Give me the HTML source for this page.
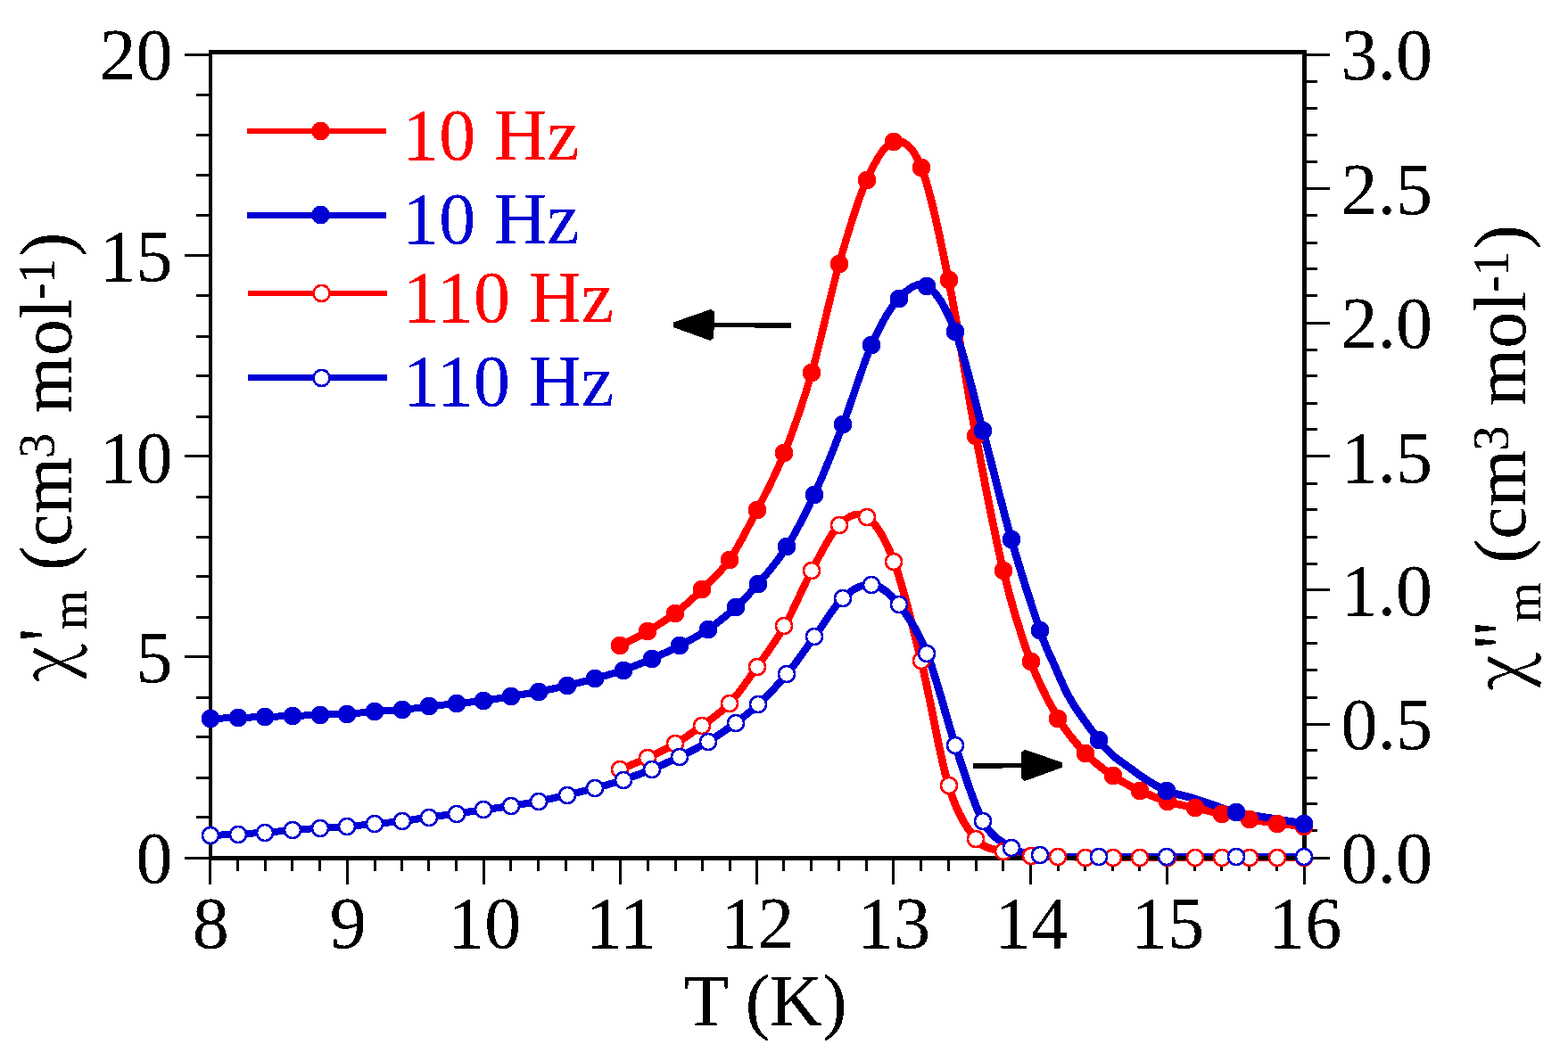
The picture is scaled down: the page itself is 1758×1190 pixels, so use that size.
<!DOCTYPE html>
<html lang="en"><head><meta charset="utf-8"><title>AC susceptibility vs temperature</title>
<style>
html,body{margin:0;padding:0;background:#fff;}
body{width:1758px;height:1190px;overflow:hidden;}
svg{display:block;}
text{font-family:"Liberation Serif","Times New Roman",Times,serif;white-space:pre;}
.t{font-size:82px;fill:#000;}
.ln{fill:none;stroke-linejoin:round;stroke-linecap:round;}
</style></head><body>
<svg width="1758" height="1190" viewBox="0 0 1758 1190" role="img" aria-label="AC susceptibility versus temperature">
<defs><filter id="crisp" x="0" y="0" width="1758" height="1190" filterUnits="userSpaceOnUse" color-interpolation-filters="sRGB"><feComponentTransfer><feFuncA type="discrete" tableValues="0 0 1 1 1"/></feComponentTransfer></filter></defs>
<rect width="1758" height="1190" fill="#fff"/>
<g class="ln" shape-rendering="crispEdges">
<path stroke="#ff0000" stroke-width="8.4" d="M695.4 724.4C700.5 721.7 715.9 714.1 726.1 708C736.3 701.9 746.5 695.8 756.8 688C767 680.2 777.2 671.1 787.4 661C797.7 650.9 807.9 642.4 818.1 627.6C828.4 612.8 838.6 591.9 848.8 572C859 552.1 869.2 533.7 879.5 508C889.7 482.3 899.9 453.3 910.1 418C920.4 382.7 930.6 331.9 940.8 296C951 260.1 961.3 225.2 971.5 202.4C981.7 179.6 992 161.5 1002.2 159"/>
<path stroke="#ff0000" stroke-width="8.8" d="M1002.2 159C1012.4 156.5 1022.6 161.8 1032.8 187.6C1043.1 213.4 1053.3 263.6 1063.5 313.8C1073.8 364 1084 434.6 1094.2 489C1104.4 543.4 1114.7 597.9 1124.9 640C1135.1 682.1 1145.3 714.2 1155.5 741.8C1165.8 769.4 1176 788.3 1186.2 805.5C1196.4 822.7 1206.7 834.2 1216.9 845C1227.1 855.8 1237.3 863 1247.6 870C1257.8 877 1268 882.2 1278.2 887C1288.5 891.8 1298.7 895.8 1308.9 899"/>
<path stroke="#ff0000" stroke-width="8.6" d="M1308.9 899C1319.1 902.2 1329.4 903.7 1339.6 906C1349.8 908.3 1360 910.8 1370.3 913"/>
<path stroke="#ff0000" stroke-width="8.4" d="M1370.3 913C1380.5 915.2 1390.7 917.2 1401 919C1411.2 920.8 1421.4 922.3 1431.6 923.6"/>
<path stroke="#ff0000" stroke-width="8.2" d="M1431.6 923.6C1441.8 924.9 1457.2 926.4 1462.3 927"/>
<path stroke="#ff0000" stroke-width="8.4" d="M695.4 863C700.5 860.8 715.9 854.8 726.1 850C736.3 845.2 746.5 840.5 756.8 834.4C767 828.3 777.2 821.2 787.4 813.6C797.7 806 807.9 799.9 818.1 789C828.4 778.1 838.6 762.4 848.8 748C859 733.6 869.2 720.5 879.5 702.5C889.7 684.5 899.9 659 910.1 640C920.4 621 930.6 598.7 940.8 588.6"/>
<path stroke="#ff0000" stroke-width="8.2" d="M940.8 588.6C951 578.5 961.3 572.8 971.5 579.6"/>
<path stroke="#ff0000" stroke-width="8.8" d="M971.5 579.6C981.7 586.4 992 602.7 1002.2 629.6C1012.4 656.5 1022.6 699.1 1032.8 741C1043.1 782.9 1053.3 847.9 1063.5 881.2C1073.8 914.5 1084 928.7 1094.2 941C1104.4 953.3 1114.7 951.9 1124.9 955"/>
<path stroke="#ff0000" stroke-width="8.4" d="M1124.9 955C1135.1 958.1 1145.3 958.6 1155.5 959.5"/>
<path stroke="#ff0000" stroke-width="8" d="M1155.5 959.5C1165.8 960.4 1176 960.2 1186.2 960.6"/>
<path stroke="#ff0000" stroke-width="8.2" d="M1186.2 960.6C1196.4 961 1206.7 961.6 1216.9 961.8"/>
<path stroke="#ff0000" stroke-width="8" d="M1216.9 961.8C1227.1 962 1237.3 962 1247.6 962C1257.8 962 1268 962 1278.2 962C1288.5 962 1298.7 962 1308.9 962C1319.1 962 1329.4 962 1339.6 962C1349.8 962 1360 962 1370.3 962C1380.5 962 1390.7 962 1401 962C1411.2 962 1421.4 962 1431.6 962C1441.8 962 1457.2 962 1462.3 962"/>
<path stroke="#0000d2" stroke-width="8" d="M235.5 806C240.7 805.8 256.3 805.3 266.6 805C276.9 804.7 287 804.3 297.2 804C307.4 803.7 317.6 803.4 327.9 803C338.1 802.6 348.4 802.2 358.7 801.8C368.9 801.4 379.2 801.4 389.4 800.8C399.6 800.2 409.8 798.8 420 798C430.2 797.2 440.4 796.9 450.6 796C460.8 795.1 471.2 793.6 481.4 792.4C491.6 791.2 501.9 790.1 512 789C522.1 787.9 531.8 787.3 542 786"/>
<path stroke="#0000d2" stroke-width="8.2" d="M542 786C552.2 784.7 562.6 782.7 573 781C583.4 779.3 593.9 777.6 604.4 775.6C614.9 773.6 625.6 771.4 636 769C646.4 766.6 656.5 763.9 667 761C677.5 758.1 688.4 755.3 699 751.6"/>
<path stroke="#0000d2" stroke-width="8.4" d="M699 751.6C709.6 747.9 720.2 743.5 730.6 739C741 734.5 751.1 729.9 761.6 724.4C772.1 718.9 783.2 713.2 793.8 706C804.4 698.8 815.6 689.6 825 681C834.4 672.4 840.8 665.9 850.4 654.6C860 643.3 872 629.7 882.4 613C892.8 596.3 902.5 577.4 913 554.6C923.5 531.8 934.5 503.9 945.2 476C955.9 448.1 966.6 410.9 977 387.4C987.4 363.9 997.1 346.1 1007.5 335C1017.9 323.9 1028.8 314.8 1039.4 321"/>
<path stroke="#0000d2" stroke-width="8.8" d="M1039.4 321C1050 327.2 1060.8 345 1071.2 372C1081.6 399 1091.5 444.1 1102 483C1112.5 521.9 1123.3 568 1134 605.3C1144.7 642.6 1158.2 684 1166 707C1173.8 730 1175 730 1180.8 743C1186.6 756 1192.1 770.8 1200.6 785.3C1209.1 799.8 1224.2 819.7 1232 830C1239.8 840.3 1242.4 842.4 1247.7 847.2C1253 852.1 1257.4 854.6 1263.6 859.1C1269.8 863.6 1277.2 869.6 1284.7 874.2C1292.2 878.9 1299.7 883.5 1308.5 887C1317.3 890.5 1329.3 892.9 1337.7 895.4C1346.1 897.9 1350.9 899.7 1358.9 902.3C1367 904.9 1368.8 907.5 1386 911"/>
<path stroke="#0000d2" stroke-width="8.4" d="M1386 911C1403.2 914.5 1449.7 921.5 1462.4 923.6"/>
<path stroke="#0000d2" stroke-width="8" d="M235.5 937C240.7 936.8 256.3 936.2 266.6 935.6C276.9 935 287 934.3 297.2 933.6C307.4 932.9 317.6 932.2 327.9 931.4C338.1 930.6 348.4 929.3 358.7 928.6C368.9 927.9 379.2 927.8 389.4 927C399.6 926.2 409.8 925 420 924C430.2 923 440.4 922.2 450.6 921"/>
<path stroke="#0000d2" stroke-width="8.2" d="M450.6 921C460.8 919.8 471.2 918 481.4 916.6C491.6 915.2 501.9 914 512 912.6C522.1 911.2 531.8 909.6 542 908.2C552.2 906.8 562.6 905.6 573 904C583.4 902.4 593.9 900.7 604.4 898.6C614.9 896.5 625.6 894 636 891.6C646.4 889.2 656.5 886.8 667 884C677.5 881.2 688.4 878.1 699 874.6"/>
<path stroke="#0000d2" stroke-width="8.4" d="M699 874.6C709.6 871.1 720.2 867.3 730.6 863C741 858.7 751.1 854.2 761.6 849C772.1 843.8 783.2 838.4 793.8 832C804.4 825.6 815.6 817.6 825 810.6C834.4 803.6 840.8 798.9 850.4 789.8C860 780.7 872 768.5 882.4 756C892.8 743.5 902.5 728.7 913 714.5C923.5 700.3 934.5 680.4 945.2 670.6C955.9 660.8 966.6 654.6 977 655.8"/>
<path stroke="#0000d2" stroke-width="8.8" d="M977 655.8C987.4 657 997.1 664.7 1007.5 677.6C1017.9 690.5 1028.8 706.5 1039.4 733C1050 759.5 1060.8 805.1 1071.2 836.4C1081.6 867.7 1091.5 902 1102 921C1112.5 940 1123.3 944.2 1134 950.6"/>
<path stroke="#0000d2" stroke-width="8.6" d="M1134 950.6C1144.7 957 1149.7 957.7 1166 959.4"/>
<path stroke="#0000d2" stroke-width="8" d="M1166 959.4C1182.3 961.1 1208.2 960.5 1232 960.7C1255.8 961 1282.8 960.9 1308.5 960.9C1334.2 960.9 1360.3 960.7 1386 960.7C1411.7 960.7 1449.7 961 1462.4 961"/>
</g>
<g fill="#000" shape-rendering="crispEdges">
<rect x="234" y="56" width="1231" height="5"/>
<rect x="234" y="960" width="1231" height="5"/>
<rect x="234" y="56" width="4" height="909"/>
<rect x="1460" y="56" width="5" height="909"/>
<rect x="207" y="961" width="28" height="3"/>
<rect x="220" y="915" width="15" height="3"/>
<rect x="220" y="871" width="15" height="3"/>
<rect x="220" y="825" width="15" height="3"/>
<rect x="220" y="781" width="15" height="3"/>
<rect x="207" y="735" width="28" height="3"/>
<rect x="220" y="691" width="15" height="3"/>
<rect x="220" y="645" width="15" height="3"/>
<rect x="220" y="601" width="15" height="3"/>
<rect x="220" y="556" width="15" height="3"/>
<rect x="207" y="510" width="28" height="3"/>
<rect x="220" y="466" width="15" height="3"/>
<rect x="220" y="420" width="15" height="3"/>
<rect x="220" y="376" width="15" height="3"/>
<rect x="220" y="330" width="15" height="3"/>
<rect x="207" y="285" width="28" height="3"/>
<rect x="220" y="240" width="15" height="3"/>
<rect x="220" y="195" width="15" height="3"/>
<rect x="220" y="150" width="15" height="3"/>
<rect x="220" y="105" width="15" height="3"/>
<rect x="207" y="60" width="28" height="3"/>
<rect x="1464" y="961" width="27" height="3"/>
<rect x="1464" y="930" width="13" height="3"/>
<rect x="1464" y="900" width="13" height="3"/>
<rect x="1464" y="871" width="13" height="3"/>
<rect x="1464" y="840" width="13" height="3"/>
<rect x="1464" y="811" width="27" height="3"/>
<rect x="1464" y="781" width="13" height="3"/>
<rect x="1464" y="750" width="13" height="3"/>
<rect x="1464" y="720" width="13" height="3"/>
<rect x="1464" y="691" width="13" height="3"/>
<rect x="1464" y="660" width="27" height="3"/>
<rect x="1464" y="631" width="13" height="3"/>
<rect x="1464" y="601" width="13" height="3"/>
<rect x="1464" y="570" width="13" height="3"/>
<rect x="1464" y="541" width="13" height="3"/>
<rect x="1464" y="510" width="27" height="3"/>
<rect x="1464" y="480" width="13" height="3"/>
<rect x="1464" y="451" width="13" height="3"/>
<rect x="1464" y="420" width="13" height="3"/>
<rect x="1464" y="391" width="13" height="3"/>
<rect x="1464" y="361" width="27" height="3"/>
<rect x="1464" y="330" width="13" height="3"/>
<rect x="1464" y="300" width="13" height="3"/>
<rect x="1464" y="271" width="13" height="3"/>
<rect x="1464" y="240" width="13" height="3"/>
<rect x="1464" y="210" width="27" height="3"/>
<rect x="1464" y="180" width="13" height="3"/>
<rect x="1464" y="150" width="13" height="3"/>
<rect x="1464" y="120" width="13" height="3"/>
<rect x="1464" y="90" width="13" height="3"/>
<rect x="1464" y="60" width="27" height="3"/>
<rect x="234" y="964" width="3" height="28"/>
<rect x="265" y="964" width="3" height="13"/>
<rect x="296" y="964" width="3" height="13"/>
<rect x="326" y="964" width="3" height="13"/>
<rect x="357" y="964" width="3" height="13"/>
<rect x="388" y="964" width="3" height="28"/>
<rect x="419" y="964" width="3" height="13"/>
<rect x="449" y="964" width="3" height="13"/>
<rect x="479" y="964" width="3" height="13"/>
<rect x="510" y="964" width="3" height="13"/>
<rect x="541" y="964" width="3" height="28"/>
<rect x="571" y="964" width="3" height="13"/>
<rect x="602" y="964" width="3" height="13"/>
<rect x="633" y="964" width="3" height="13"/>
<rect x="663" y="964" width="3" height="13"/>
<rect x="694" y="964" width="3" height="28"/>
<rect x="725" y="964" width="3" height="13"/>
<rect x="756" y="964" width="3" height="13"/>
<rect x="786" y="964" width="3" height="13"/>
<rect x="817" y="964" width="3" height="13"/>
<rect x="847" y="964" width="3" height="28"/>
<rect x="877" y="964" width="3" height="13"/>
<rect x="908" y="964" width="3" height="13"/>
<rect x="939" y="964" width="3" height="13"/>
<rect x="970" y="964" width="3" height="13"/>
<rect x="1000" y="964" width="3" height="28"/>
<rect x="1031" y="964" width="3" height="13"/>
<rect x="1062" y="964" width="3" height="13"/>
<rect x="1093" y="964" width="3" height="13"/>
<rect x="1123" y="964" width="3" height="13"/>
<rect x="1154" y="964" width="3" height="28"/>
<rect x="1185" y="964" width="3" height="13"/>
<rect x="1215" y="964" width="3" height="13"/>
<rect x="1246" y="964" width="3" height="13"/>
<rect x="1276" y="964" width="3" height="13"/>
<rect x="1307" y="964" width="3" height="28"/>
<rect x="1338" y="964" width="3" height="13"/>
<rect x="1368" y="964" width="3" height="13"/>
<rect x="1399" y="964" width="3" height="13"/>
<rect x="1430" y="964" width="3" height="13"/>
<rect x="1461" y="964" width="3" height="28"/>
</g>
<g fill="#ff0000" shape-rendering="crispEdges">
<circle cx="695" cy="724" r="10.4"/>
<circle cx="726" cy="708" r="10.4"/>
<circle cx="757" cy="688" r="10.4"/>
<circle cx="787" cy="661" r="10.4"/>
<circle cx="818" cy="628" r="10.4"/>
<circle cx="849" cy="572" r="10.4"/>
<circle cx="879" cy="508" r="10.4"/>
<circle cx="910" cy="418" r="10.4"/>
<circle cx="941" cy="296" r="10.4"/>
<circle cx="972" cy="202" r="10.4"/>
<circle cx="1002" cy="159" r="10.4"/>
<circle cx="1033" cy="188" r="10.4"/>
<circle cx="1064" cy="314" r="10.4"/>
<circle cx="1094" cy="489" r="10.4"/>
<circle cx="1125" cy="640" r="10.4"/>
<circle cx="1156" cy="742" r="10.4"/>
<circle cx="1186" cy="806" r="10.4"/>
<circle cx="1217" cy="845" r="10.4"/>
<circle cx="1248" cy="870" r="10.4"/>
<circle cx="1278" cy="887" r="10.4"/>
<circle cx="1309" cy="899" r="10.4"/>
<circle cx="1340" cy="906" r="10.4"/>
<circle cx="1370" cy="913" r="10.4"/>
<circle cx="1401" cy="919" r="10.4"/>
<circle cx="1432" cy="924" r="10.4"/>
<circle cx="1462" cy="927" r="10.4"/>
</g>
<g fill="#0000d2" shape-rendering="crispEdges">
<circle cx="236" cy="806" r="10.4"/>
<circle cx="267" cy="805" r="10.4"/>
<circle cx="297" cy="804" r="10.4"/>
<circle cx="328" cy="803" r="10.4"/>
<circle cx="359" cy="802" r="10.4"/>
<circle cx="389" cy="801" r="10.4"/>
<circle cx="420" cy="798" r="10.4"/>
<circle cx="451" cy="796" r="10.4"/>
<circle cx="481" cy="792" r="10.4"/>
<circle cx="512" cy="789" r="10.4"/>
<circle cx="542" cy="786" r="10.4"/>
<circle cx="573" cy="781" r="10.4"/>
<circle cx="604" cy="776" r="10.4"/>
<circle cx="636" cy="769" r="10.4"/>
<circle cx="667" cy="761" r="10.4"/>
<circle cx="699" cy="752" r="10.4"/>
<circle cx="731" cy="739" r="10.4"/>
<circle cx="762" cy="724" r="10.4"/>
<circle cx="794" cy="706" r="10.4"/>
<circle cx="825" cy="681" r="10.4"/>
<circle cx="850" cy="655" r="10.4"/>
<circle cx="882" cy="613" r="10.4"/>
<circle cx="913" cy="555" r="10.4"/>
<circle cx="945" cy="476" r="10.4"/>
<circle cx="977" cy="387" r="10.4"/>
<circle cx="1008" cy="335" r="10.4"/>
<circle cx="1039" cy="321" r="10.4"/>
<circle cx="1071" cy="372" r="10.4"/>
<circle cx="1102" cy="483" r="10.4"/>
<circle cx="1134" cy="605" r="10.4"/>
<circle cx="1166" cy="707" r="10.4"/>
<circle cx="1232" cy="830" r="10.4"/>
<circle cx="1308" cy="887" r="10.4"/>
<circle cx="1386" cy="911" r="10.4"/>
<circle cx="1462" cy="924" r="10.4"/>
</g>
<g fill="#fff" stroke="#ff0000" stroke-width="2.7" shape-rendering="crispEdges">
<circle cx="695" cy="863" r="9.05"/>
<circle cx="726" cy="850" r="9.05"/>
<circle cx="757" cy="834" r="9.05"/>
<circle cx="787" cy="814" r="9.05"/>
<circle cx="818" cy="789" r="9.05"/>
<circle cx="849" cy="748" r="9.05"/>
<circle cx="879" cy="702" r="9.05"/>
<circle cx="910" cy="640" r="9.05"/>
<circle cx="941" cy="589" r="9.05"/>
<circle cx="972" cy="580" r="9.05"/>
<circle cx="1002" cy="630" r="9.05"/>
<circle cx="1033" cy="741" r="9.05"/>
<circle cx="1064" cy="881" r="9.05"/>
<circle cx="1094" cy="941" r="9.05"/>
<circle cx="1125" cy="955" r="9.05"/>
<circle cx="1156" cy="960" r="9.05"/>
<circle cx="1186" cy="961" r="9.05"/>
<circle cx="1217" cy="962" r="9.05"/>
<circle cx="1248" cy="962" r="9.05"/>
<circle cx="1278" cy="962" r="9.05"/>
<circle cx="1309" cy="962" r="9.05"/>
<circle cx="1340" cy="962" r="9.05"/>
<circle cx="1370" cy="962" r="9.05"/>
<circle cx="1401" cy="962" r="9.05"/>
<circle cx="1432" cy="962" r="9.05"/>
<circle cx="1462" cy="962" r="9.05"/>
</g>
<g fill="#fff" stroke="#0000d2" stroke-width="2.7" shape-rendering="crispEdges">
<circle cx="236" cy="937" r="9.05"/>
<circle cx="267" cy="936" r="9.05"/>
<circle cx="297" cy="934" r="9.05"/>
<circle cx="328" cy="931" r="9.05"/>
<circle cx="359" cy="929" r="9.05"/>
<circle cx="389" cy="927" r="9.05"/>
<circle cx="420" cy="924" r="9.05"/>
<circle cx="451" cy="921" r="9.05"/>
<circle cx="481" cy="917" r="9.05"/>
<circle cx="512" cy="913" r="9.05"/>
<circle cx="542" cy="908" r="9.05"/>
<circle cx="573" cy="904" r="9.05"/>
<circle cx="604" cy="899" r="9.05"/>
<circle cx="636" cy="892" r="9.05"/>
<circle cx="667" cy="884" r="9.05"/>
<circle cx="699" cy="875" r="9.05"/>
<circle cx="731" cy="863" r="9.05"/>
<circle cx="762" cy="849" r="9.05"/>
<circle cx="794" cy="832" r="9.05"/>
<circle cx="825" cy="811" r="9.05"/>
<circle cx="850" cy="790" r="9.05"/>
<circle cx="882" cy="756" r="9.05"/>
<circle cx="913" cy="714" r="9.05"/>
<circle cx="945" cy="671" r="9.05"/>
<circle cx="977" cy="656" r="9.05"/>
<circle cx="1008" cy="678" r="9.05"/>
<circle cx="1039" cy="733" r="9.05"/>
<circle cx="1071" cy="836" r="9.05"/>
<circle cx="1102" cy="921" r="9.05"/>
<circle cx="1134" cy="951" r="9.05"/>
<circle cx="1166" cy="959" r="9.05"/>
<circle cx="1232" cy="961" r="9.05"/>
<circle cx="1308" cy="961" r="9.05"/>
<circle cx="1386" cy="961" r="9.05"/>
<circle cx="1462" cy="961" r="9.05"/>
</g>
<g fill="#000" stroke="#000" shape-rendering="crispEdges">
<line x1="887" y1="365" x2="800" y2="364.5" stroke-width="5.5"/>
<polygon points="756.1,364.3 798,349.7 797.3,379.2" stroke-width="6" stroke-linejoin="bevel"/>
<line x1="1091" y1="859" x2="1146" y2="858.6" stroke-width="5.5"/>
<polygon points="1189.9,858 1148,843.6 1148,873.1" stroke-width="6" stroke-linejoin="bevel"/>
</g>
<g filter="url(#crisp)">
<g shape-rendering="crispEdges">
<rect x="277" y="144" width="156" height="6" fill="#ff0000"/>
<circle cx="359.5" cy="147" r="10.4" fill="#ff0000"/>
</g>
<text x="451.3" y="178.8" font-size="82" fill="#ff0000">10 Hz</text>
<g shape-rendering="crispEdges">
<rect x="277" y="238" width="156" height="7" fill="#0000d2"/>
<circle cx="359.5" cy="241" r="10.4" fill="#0000d2"/>
</g>
<text x="451.3" y="273.2" font-size="82" fill="#0000d2">10 Hz</text>
<g shape-rendering="crispEdges">
<rect x="278" y="326" width="156" height="6" fill="#ff0000"/>
<circle cx="360.5" cy="329" r="9.05" fill="#fff" stroke="#ff0000" stroke-width="2.7"/>
</g>
<text x="452" y="361.3" font-size="82" fill="#ff0000">110 Hz</text>
<g shape-rendering="crispEdges">
<rect x="278" y="420" width="156" height="7" fill="#0000d2"/>
<circle cx="360.5" cy="424" r="9.05" fill="#fff" stroke="#0000d2" stroke-width="2.7"/>
</g>
<text x="452" y="455.3" font-size="82" fill="#0000d2">110 Hz</text>
<text class="t" x="193.5" y="989.5" text-anchor="end">0</text>
<text class="t" x="193.5" y="764.5" text-anchor="end">5</text>
<text class="t" x="193.5" y="540.5" text-anchor="end">10</text>
<text class="t" x="193.5" y="314.5" text-anchor="end">15</text>
<text class="t" x="193.5" y="88.5" text-anchor="end">20</text>
<text class="t" x="1503.5" y="989.5">0.0</text>
<text class="t" x="1503.5" y="839.5">0.5</text>
<text class="t" x="1503.5" y="689.5">1.0</text>
<text class="t" x="1503.5" y="540.5">1.5</text>
<text class="t" x="1503.5" y="389.5">2.0</text>
<text class="t" x="1503.5" y="239.5">2.5</text>
<text class="t" x="1503.5" y="88.5">3.0</text>
<text class="t" x="236.3" y="1062.5" text-anchor="middle">8</text>
<text class="t" x="390.3" y="1062.5" text-anchor="middle">9</text>
<text class="t" x="543.3" y="1062.5" text-anchor="middle">10</text>
<text class="t" x="696.3" y="1062.5" text-anchor="middle">11</text>
<text class="t" x="849.3" y="1062.5" text-anchor="middle">12</text>
<text class="t" x="1002.3" y="1062.5" text-anchor="middle">13</text>
<text class="t" x="1156.3" y="1062.5" text-anchor="middle">14</text>
<text class="t" x="1309.3" y="1062.5" text-anchor="middle">15</text>
<text class="t" x="1463.3" y="1062.5" text-anchor="middle">16</text>
<text class="t" x="766.7" y="1150" xml:space="preserve">T (K)</text>
<g transform="translate(79.5 765) rotate(-90)">
<text class="t" transform="translate(0.8 1) scale(0.915 1)" style="font-family:'Noto Serif CJK SC','DejaVu Serif',serif">χ</text>
<text class="t" transform="translate(45.5 9.1) scale(1 1.2)">'</text>
<text class="t" xml:space="preserve"><tspan font-size="57.5" x="58.7" y="16.8">m</tspan><tspan x="104.5 125 152.2 188.6" y="0"> (cm</tspan><tspan font-size="57" x="250.8" y="-19.5">3</tspan><tspan x="281 301.6 366.1 406.9" y="0"> mol</tspan><tspan font-size="57" x="428.6 446.6" y="-19.5">-1</tspan><tspan x="477.1" y="0">)</tspan></text>
</g>
<g transform="translate(1709.8 774.6) rotate(-90)">
<text class="t" transform="translate(0.8 1) scale(0.915 1)" style="font-family:'Noto Serif CJK SC','DejaVu Serif',serif">χ</text>
<text class="t" transform="translate(45.2 9.1) scale(1 1.2)">"</text>
<text class="t" xml:space="preserve"><tspan font-size="57.5" x="76.7" y="16.8">m</tspan><tspan x="122.5 142.9 170.1 206.5" y="0"> (cm</tspan><tspan font-size="57" x="268.7" y="-19.5">3</tspan><tspan x="298.9 319.5 384.1 424.9" y="0"> mol</tspan><tspan font-size="57" x="446.5 464.5" y="-19.5">-1</tspan><tspan x="495.1" y="0">)</tspan></text>
</g>
</g>
</svg>
</body></html>
